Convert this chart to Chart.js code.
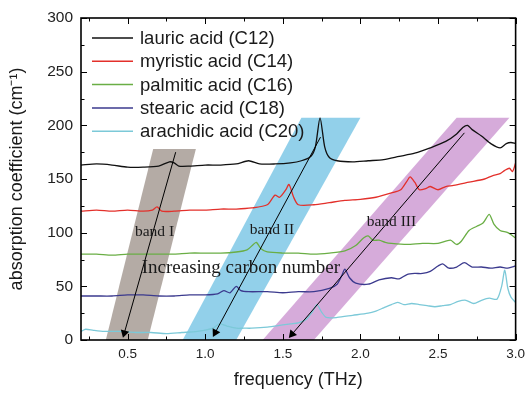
<!DOCTYPE html>
<html>
<head>
<meta charset="utf-8">
<script src="https://cdn.jsdelivr.net/npm/chart.js@4.4.1/dist/chart.umd.min.js"></script>
<style>
 html, body { margin: 0; padding: 0; background: #fff; }
 canvas { display: block; }
</style>
</head>
<body>
<canvas id="chart" width="531" height="395"></canvas>
<script>
// x: frequency (THz), y: absorption coefficient (cm-1)
const seriesNames = ['lauric acid (C12)', 'myristic acid (C14)', 'palmitic acid (C16)', 'stearic acid (C18)', 'arachidic acid (C20)'];
const seriesColors = ['#111111', '#e3302b', '#6aae45', '#3b3a8e', '#7cc9d8'];

const lauricX = [0.2, 0.3, 0.4, 0.5, 0.6, 0.7, 0.77, 0.8, 0.83, 0.9, 1.0, 1.1, 1.2, 1.28, 1.35, 1.45, 1.55, 1.62, 1.68, 1.71, 1.74, 1.77, 1.8, 1.85, 1.95, 2.05, 2.15, 2.25, 2.35, 2.45, 2.55, 2.62, 2.66, 2.69, 2.72, 2.78, 2.84, 2.9, 2.94, 2.97, 3.0];
const lauricY = [163, 164, 163, 161, 161, 162, 166, 165, 162, 162, 163, 163, 164, 167, 164, 164, 165, 167, 171, 180, 207, 180, 170, 167, 166, 167, 168, 171, 174, 179, 185, 192, 198, 200, 196, 190, 183, 179, 183, 184, 183];

const myristicX = [0.2, 0.3, 0.4, 0.5, 0.6, 0.66, 0.69, 0.72, 0.8, 0.9, 1.0, 1.1, 1.2, 1.3, 1.4, 1.45, 1.48, 1.52, 1.54, 1.57, 1.6, 1.7, 1.8, 1.9, 2.0, 2.1, 2.2, 2.26, 2.3, 2.32, 2.35, 2.38, 2.42, 2.45, 2.5, 2.55, 2.6, 2.7, 2.8, 2.85, 2.9, 2.93, 2.96, 2.98, 3.0];
const myristicY = [120, 121, 120, 121, 120, 121, 124, 120, 120, 121, 121, 122, 122, 123, 126, 135, 133, 140, 145, 133, 126, 126, 128, 130, 131, 133, 137, 140, 148, 152, 147, 140, 141, 143, 140, 143, 144, 147, 150, 153, 155, 158, 160, 157, 165];

const palmiticX = [0.2, 0.3, 0.4, 0.5, 0.6, 0.7, 0.8, 0.9, 1.0, 1.1, 1.2, 1.27, 1.31, 1.33, 1.36, 1.4, 1.5, 1.6, 1.7, 1.8, 1.9, 1.97, 2.02, 2.05, 2.08, 2.12, 2.16, 2.2, 2.3, 2.4, 2.5, 2.58, 2.62, 2.65, 2.7, 2.75, 2.79, 2.83, 2.86, 2.9, 2.95, 3.0];
const palmiticY = [80, 80, 79, 80, 80, 80, 80, 81, 81, 81, 82, 84, 89, 91, 85, 82, 81, 81, 80, 81, 83, 88, 95, 97, 93, 93, 91, 90, 89, 90, 90, 93, 89, 92, 102, 106, 109, 117, 108, 102, 100, 95];

const stearicX = [0.2, 0.3, 0.4, 0.5, 0.6, 0.7, 0.8, 0.9, 1.0, 1.08, 1.12, 1.16, 1.2, 1.23, 1.28, 1.4, 1.5, 1.6, 1.7, 1.8, 1.85, 1.88, 1.9, 1.93, 1.97, 2.05, 2.12, 2.2, 2.25, 2.3, 2.35, 2.4, 2.45, 2.5, 2.53, 2.57, 2.62, 2.67, 2.72, 2.78, 2.84, 2.9, 2.95, 3.0];
const stearicY = [41, 41, 41, 42, 42, 41, 41, 42, 42, 43, 46, 44, 50, 46, 45, 45, 44, 45, 45, 48, 52, 60, 66, 58, 53, 52, 56, 58, 57, 61, 62, 62, 64, 69, 71, 67, 68, 72, 68, 68, 67, 68, 67, 69];

const arachidicX = [0.2, 0.23, 0.28, 0.35, 0.45, 0.55, 0.65, 0.75, 0.85, 0.95, 1.05, 1.09, 1.14, 1.2, 1.25, 1.3, 1.4, 1.5, 1.55, 1.6, 1.65, 1.69, 1.72, 1.75, 1.78, 1.85, 1.95, 2.05, 2.1, 2.15, 2.2, 2.24, 2.28, 2.33, 2.38, 2.43, 2.48, 2.53, 2.58, 2.63, 2.68, 2.73, 2.78, 2.83, 2.88, 2.91, 2.93, 2.95, 2.97, 3.0];
const arachidicY = [8, 10, 9, 8, 8, 7, 7, 6, 7, 8, 11, 15, 13, 11, 11, 11, 12, 14, 15, 16, 19, 26, 33, 26, 21, 21, 23, 25, 27, 30, 33, 35, 33, 34, 33, 32, 31, 32, 33, 36, 37, 34, 37, 39, 38, 50, 65, 48, 40, 35];

// shaded bands (closed outlines)
const bandIX = [0.36, 0.63, 0.94, 0.665, 0.36];
const bandIY = [0, 0, 178, 178, 0];
const bandIIX = [0.855, 1.2, 2.0, 1.62, 0.855];
const bandIIY = [0, 0, 207, 207, 0];
const bandIIIX = [1.37, 1.7, 2.96, 2.62, 1.37];
const bandIIIY = [0, 0, 207, 207, 0];
const bandColors = ['rgba(176,166,160,0.95)', 'rgba(140,206,233,0.95)', 'rgba(212,166,216,0.95)'];

// arrows (start, end)
const arrowIX = [0.81, 0.479];
const arrowIY = [175, 6.5];
const arrowIIX = [1.743, 1.065];
const arrowIIY = [189, 7];
const arrowIIIX = [2.67, 1.56];
const arrowIIIY = [193, 5.5];

// annotations
const noteTexts = ['band I', 'band II', 'band III', 'Increasing carbon number'];
const noteX = [0.674, 1.43, 2.2, 1.23];
const noteY = [100.6, 102.5, 110, 67];

const xTicks = [0.5, 1.0, 1.5, 2.0, 2.5, 3.0];
const xMinorTicks = [0.25, 0.75, 1.25, 1.75, 2.25, 2.75];
const yTicks = [0, 50, 100, 150, 200, 250, 300];
const yMinorTicks = [25, 75, 125, 175, 225, 275];

const pts = (xs, ys) => xs.map((x, i) => ({ x, y: ys[i] }));

const seriesData = [[lauricX, lauricY], [myristicX, myristicY], [palmiticX, palmiticY], [stearicX, stearicY], [arachidicX, arachidicY]];
const bandData = [[bandIX, bandIY], [bandIIX, bandIIY], [bandIIIX, bandIIIY]];
const arrowData = [[arrowIX, arrowIY], [arrowIIX, arrowIIY], [arrowIIIX, arrowIIIY]];

function arrowRotation(ctx) {
 if (ctx.dataIndex !== 1) return 0;
 const { x: xs, y: ys } = ctx.chart.scales;
 const d = ctx.dataset.data;
 const dx = xs.getPixelForValue(d[1].x) - xs.getPixelForValue(d[0].x);
 const dy = ys.getPixelForValue(d[1].y) - ys.getPixelForValue(d[0].y);
 return Math.atan2(dx, -dy) * 180 / Math.PI;
}

const datasets = [
 ...arrowData.map(([xs, ys]) => ({
 data: pts(xs, ys),
 borderColor: '#000',
 borderWidth: 1,
 pointRadius: [0, 5],
 pointStyle: 'triangle',
 pointBackgroundColor: '#000',
 pointBorderColor: '#000',
 pointBorderWidth: 0,
 pointRotation: arrowRotation,
 fill: false,
 order: 0,
 })),
 ...seriesData.map(([xs, ys], i) => ({
 label: seriesNames[i],
 data: pts(xs, ys),
 borderColor: seriesColors[i],
 borderWidth: 1.3,
 pointRadius: 0,
 tension: 0.25,
 fill: false,
 order: 1,
 })),
 ...bandData.map(([xs, ys], i) => ({
 data: pts(xs, ys),
 borderWidth: 0,
 borderColor: 'transparent',
 backgroundColor: bandColors[i],
 pointRadius: 0,
 fill: 'shape',
 order: 2,
 })),
];

const frameAndTicks = {
 id: 'frameAndTicks',
 afterDraw(chart) {
 const { ctx, chartArea: a, scales } = chart;
 ctx.save();
 ctx.strokeStyle = '#000';
 ctx.lineWidth = 1;
 ctx.beginPath();
 xTicks.forEach(v => {
 const px = Math.round(scales.x.getPixelForValue(v)) + 0.5;
 ctx.moveTo(px, a.bottom); ctx.lineTo(px, a.bottom - 6);
 ctx.moveTo(px, a.top); ctx.lineTo(px, a.top + 6);
 });
 xMinorTicks.forEach(v => {
 const px = Math.round(scales.x.getPixelForValue(v)) + 0.5;
 ctx.moveTo(px, a.bottom); ctx.lineTo(px, a.bottom - 3.5);
 ctx.moveTo(px, a.top); ctx.lineTo(px, a.top + 3.5);
 });
 yTicks.forEach(v => {
 const py = Math.round(scales.y.getPixelForValue(v)) + 0.5;
 ctx.moveTo(a.left, py); ctx.lineTo(a.left + 6, py);
 ctx.moveTo(a.right, py); ctx.lineTo(a.right - 6, py);
 });
 yMinorTicks.forEach(v => {
 const py = Math.round(scales.y.getPixelForValue(v)) + 0.5;
 ctx.moveTo(a.left, py); ctx.lineTo(a.left + 3.5, py);
 ctx.moveTo(a.right, py); ctx.lineTo(a.right - 3.5, py);
 });
 ctx.stroke();
 ctx.lineWidth = 1.6;
 ctx.strokeRect(a.left, a.top, a.right - a.left, a.bottom - a.top);
 ctx.restore();
 },
};

const notes = {
 id: 'notes',
 afterDatasetsDraw(chart) {
 const { ctx, scales } = chart;
 ctx.save();
 ctx.fillStyle = '#1a1a1a';
 ctx.textAlign = 'center';
 ctx.textBaseline = 'middle';
 noteTexts.forEach((t, i) => {
 ctx.font = (i === 3 ? '19px' : '15.5px') + ' "Liberation Serif", "Times New Roman", serif';
 ctx.fillText(t, scales.x.getPixelForValue(noteX[i]), scales.y.getPixelForValue(noteY[i]));
 });
 ctx.restore();
 },
};

const insideLegend = {
 id: 'insideLegend',
 afterDraw(chart) {
 const { ctx, chartArea: a } = chart;
 ctx.save();
 ctx.font = '18.5px "Liberation Sans", Arial, sans-serif';
 ctx.textBaseline = 'middle';
 ctx.textAlign = 'left';
 seriesNames.forEach((name, i) => {
 const y = a.top + 20 + i * 23.3;
 ctx.strokeStyle = seriesColors[i];
 ctx.lineWidth = 1.5;
 ctx.beginPath();
 ctx.moveTo(a.left + 11, y);
 ctx.lineTo(a.left + 52, y);
 ctx.stroke();
 ctx.fillStyle = '#1a1a1a';
 ctx.fillText(name, a.left + 59, y + 1);
 });
 ctx.restore();
 },
};

new Chart(document.getElementById('chart'), {
 type: 'line',
 data: { datasets },
 plugins: [notes, frameAndTicks, insideLegend],
 options: {
 responsive: false,
 animation: false,
 layout: { padding: { top: 18, right: 13, left: 0, bottom: 0 } },
 plugins: { legend: { display: false }, tooltip: { enabled: false } },
 scales: {
 x: {
 type: 'linear',
 min: 0.2,
 max: 3.0,
 afterBuildTicks: s => { s.ticks = xTicks.map(v => ({ value: v })); },
 afterFit: s => { s.height = 55; },
 grid: { display: false, drawTicks: false },
 border: { display: false },
 ticks: {
 autoSkip: false,
 maxRotation: 0,
 padding: 6,
 color: '#222',
 font: { family: '"Liberation Sans", Arial, sans-serif', size: 13.5 },
 callback: v => v.toFixed(1),
 },
 title: {
 display: true,
 text: 'frequency (THz)',
 color: '#1a1a1a',
 padding: { top: 0, bottom: 4 },
 font: { family: '"Liberation Sans", Arial, sans-serif', size: 18 },
 },
 },
 y: {
 min: 0,
 max: 300,
 afterBuildTicks: s => { s.ticks = yTicks.map(v => ({ value: v })); },
 afterFit: s => { s.width = 81; },
 grid: { display: false, drawTicks: false },
 border: { display: false },
 ticks: {
 autoSkip: false,
 padding: 8,
 color: '#222',
 font: { family: '"Liberation Sans", Arial, sans-serif', size: 15.5 },
 },
 title: {
 display: true,
 text: 'absorption coefficient (cm⁻¹)',
 color: '#1a1a1a',
 padding: { top: 6, bottom: 6 },
 font: { family: '"Liberation Sans", Arial, sans-serif', size: 18 },
 },
 },
 },
 },
});
</script>
</body>
</html>
